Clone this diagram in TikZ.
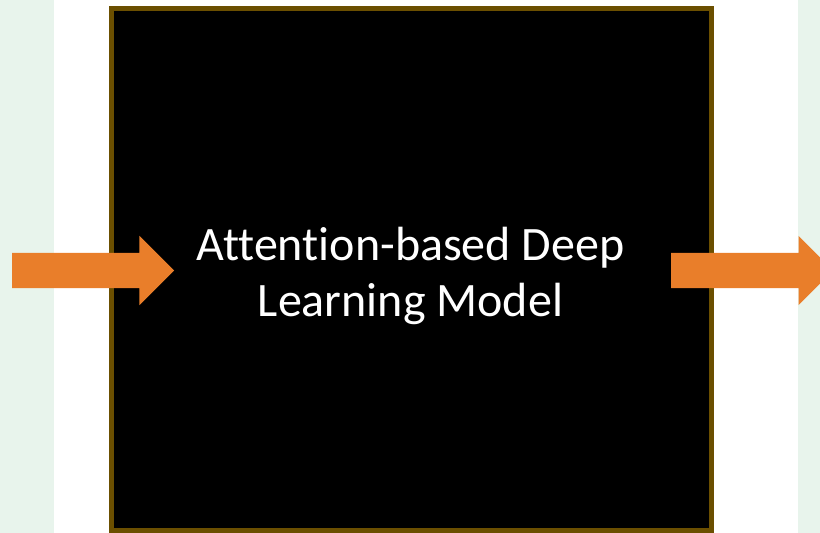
\documentclass[tikz,border=0pt]{standalone}
\usepackage{fontspec}
\setmainfont[Ligatures=NoCommon]{Carlito}
\usetikzlibrary{shapes.arrows}

\definecolor{paleGreen}{HTML}{E8F4EC}
\definecolor{boxBrown}{HTML}{6B4F00}
\definecolor{flowOrange}{HTML}{E97E2A}

\tikzset{
    flow/.style={single arrow, fill=flowOrange, draw=none, inner xsep=0pt, inner ysep=17.5pt,
        single arrow head extend=17pt, single arrow tip angle=90, minimum height=162pt}
}

\begin{document}
\begin{tikzpicture}[x=1pt, y=-1pt]
                        \useasboundingbox (0,0) rectangle (820,533);
                        \clip (0,0) rectangle (820,533);
                        % page background
                        \fill[paleGreen] (0,0) rectangle (820,533);
                        \fill[white] (54,0) rectangle (798,533);

                        \node (model) at (411.5,269.5) [draw=boxBrown, fill=black, line width=5pt, inner sep=0pt, minimum width=600pt, minimum height=522pt] {};
                        \node (modeltext) at (410.5,275.5) [text=white, align=center, font=\fontsize{48}{56}\selectfont] {Attention-based Deep\\Learning Model};

                        \node (input) at (12,270.5) [flow, anchor=tail] {};
                        \node (output) at (671,270.5) [flow, anchor=tail] {};
                    \end{tikzpicture}
\end{document}
